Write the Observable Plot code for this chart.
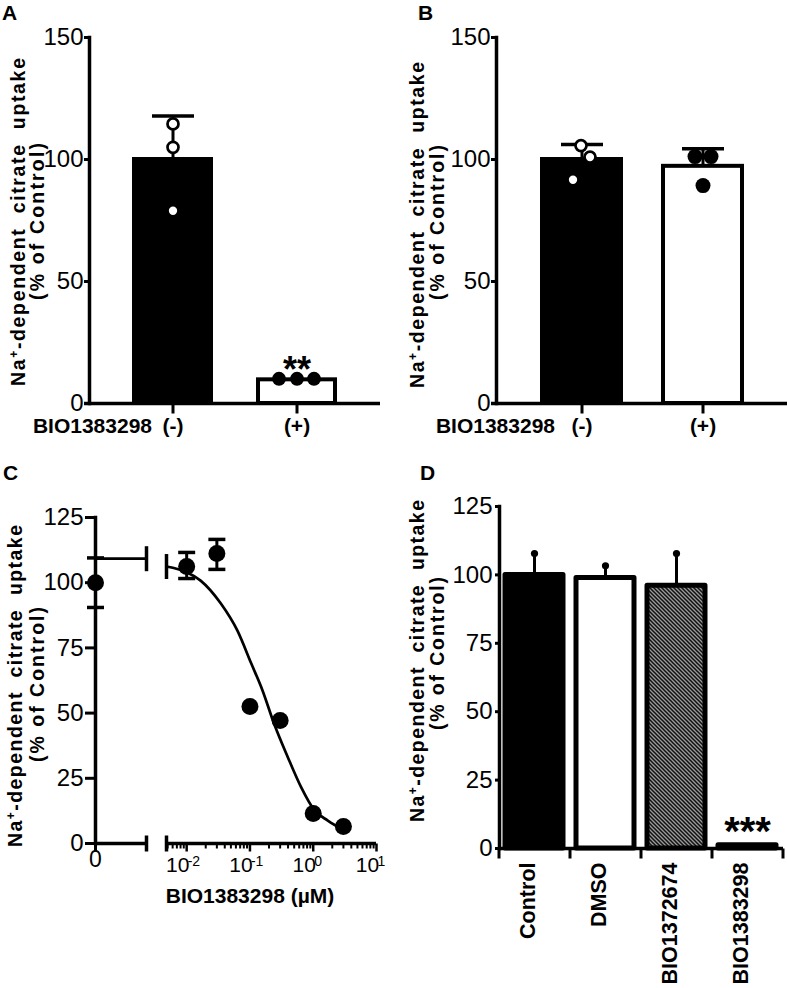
<!DOCTYPE html>
<html><head><meta charset="utf-8">
<script src="https://cdn.jsdelivr.net/npm/d3@7"></script>
<script src="https://cdn.jsdelivr.net/npm/@observablehq/plot@0.6"></script>
<style>
body{margin:0;background:#fff;}
#fig{position:relative;width:787px;height:988px;overflow:hidden;background:#fff;}
#fig svg{position:absolute;}
</style></head><body><div id="fig"></div>
<script>
// ---------- DATA ----------
// Panel A
const A_cats = ["(-)", "(+)"];
const A_means = [100, 9.7];
const A_errTop = [117.8, null];
const A_points = [[114.6, 105, 79], [10.1, 10.1, 10.1]];
const A_yTicks = [0, 50, 100, 150];
const A_star = "**";
const A_starValue = 13.7;
// Panel B
const B_cats = ["(-)", "(+)"];
const B_means = [100, 97.2];
const B_errTop = [106.1, 104.4];
const B_points = [[105.7, 101, 91.7], [101.2, 101.2, 89.3]];
const B_yTicks = [0, 50, 100, 150];
const AB_xName = "BIO1383298";
// Panel C
const C_conc = [0, 0.01, 0.03, 0.1, 0.3, 1, 3];
const C_mean = [100, 106.2, 111.2, 52.5, 47.2, 11.5, 6.5];
const C_lo = [90.5, 101.6, 105.1, null, null, null, null];
const C_hi = [109.5, 111.6, 116.6, null, null, null, null];
const C_fitConc = [0.0048, 0.01, 0.0166, 0.0347, 0.0631, 0.105, 0.158, 0.24, 0.398, 0.646, 1.047, 1.7, 3.0];
const C_fitVal = [106.2, 104, 100.8, 92, 81.7, 69, 58.7, 46, 33, 21.5, 12.7, 8.8, 5.2];
const C_fitTop = 109.2;
const C_yTicks = [0, 25, 50, 75, 100, 125];
const C_majorTicks = [0.01, 0.1, 1, 10];
const C_majorExp = ["-2", "-1", "0", "1"];
const C_xTitle = "BIO1383298 (µM)";
// Panel D
const D_cats = ["Control", "DMSO", "BIO1372674", "BIO1383298"];
const D_means = [100, 98.9, 96, 1.2];
const D_errTop = [107.8, 103.3, 107.8, null];
const D_yTicks = [0, 25, 50, 75, 100, 125];
const D_star = "***";
const D_starValue = 6.1;
// Titles
const Y_PRE = "Na", Y_SUP = "+", Y_MAIN = "-dependent  citrate  uptake", Y_LINE2 = "(% of Control)";

// ---------- STYLE / LAYOUT ----------
const NUM_FONT = '"Liberation Sans",Arial,Helvetica,sans-serif';
const BOLD_FONT = '"Liberation Sans",Arial,Helvetica,sans-serif';
const baseStyle = {fontFamily: NUM_FONT, fontSize: "24px", background: "transparent", overflow: "visible", color: "black"};
const C_breakEnd = 1;        // left (zero) segment: 0 .. breakEnd
const C_logMin = 0.0048;     // right (log) segment start
const C_logMax = 10;

const hCap = w => ({draw(ctx){ctx.moveTo(-w,0); ctx.lineTo(w,0);}});
const vCap = h => ({draw(ctx){ctx.moveTo(0,-h); ctx.lineTo(0,h);}});
const tickDown = h => ({draw(ctx){ctx.moveTo(0,0); ctx.lineTo(0,h);}});
const boldText = {fontWeight: "bold", fontFamily: BOLD_FONT};

const fig = document.getElementById("fig");
function place(svg, left, top){ svg.style.left = left + "px"; svg.style.top = top + "px"; fig.appendChild(svg); return svg; }

function yTitle(svg, x1, cy1, x2, cy2, len1, len2){
  const g = d3.select(svg).append("g").attr("font-family", BOLD_FONT).attr("font-weight", "bold").attr("font-size", 19.5).attr("fill", "black");
  const t1 = g.append("text").attr("transform", `translate(${x1},${cy1}) rotate(-90)`).attr("text-anchor", "middle").attr("dy", "0.35em")
    .attr("textLength", len1).attr("lengthAdjust", "spacing").attr("xml:space", "preserve").style("white-space", "pre");
  t1.append("tspan").text(Y_PRE);
  t1.append("tspan").attr("font-size", 12).attr("baseline-shift", "55%").text(Y_SUP);
  t1.append("tspan").text(Y_MAIN);
  g.append("text").attr("transform", `translate(${x2},${cy2}) rotate(-90)`).attr("text-anchor", "middle").attr("dy", "0.35em")
    .attr("textLength", len2).attr("lengthAdjust", "spacing").text(Y_LINE2);
}
function letter(svg, ch, x, y){
  d3.select(svg).append("text").attr("x", x).attr("y", y).attr("text-anchor", "start").attr("font-family", BOLD_FONT)
    .attr("font-weight", "bold").attr("font-size", 21).attr("fill", "black").text(ch);
}

// ---------- PANELS A & B ----------
function panelAB(o){
  const bars = o.cats.map((c, i) => ({c, v: o.means[i], e: o.errTop[i], f: i === 0 ? "black" : "white"}));
  const errs = bars.filter(d => d.e != null);
  const pointMarks = o.cats.flatMap((c, i) => o.points[i].map((v, j) =>
    Plot.dot([{c, v}], {x: "c", y: "v", dx: o.jitter[i][j],
      r: i === 0 ? 5.5 : o.filledR, fill: i === 0 ? "white" : "black", stroke: "black", strokeWidth: i === 0 ? 2.7 : 0})));
  const marks = [
    Plot.barY(bars, {x: "c", y: "v", fill: "f", stroke: "black", strokeWidth: 4}),
    Plot.ruleX(errs, {x: "c", y1: "v", y2: "e", strokeWidth: 3}),
    Plot.dot(errs, {x: "c", y: "e", symbol: hCap(21), fill: "none", stroke: "black", strokeWidth: 3.5}),
    ...pointMarks,
    Plot.frame({anchor: "left", strokeWidth: 3.5}),
    Plot.ruleY([0], {strokeWidth: 3.5, insetLeft: -5}),
    Plot.axisY({ticks: o.yTicks, tickSize: 5, tickPadding: 1, strokeWidth: 3, label: null}),
    Plot.dot(o.cats, {x: d => d, y: () => 0, symbol: tickDown(10), fill: "none", stroke: "black", strokeWidth: 3}),
    Plot.text(o.cats, {x: d => d, frameAnchor: "bottom", dy: 29, fontSize: 21, ...boldText}),
    Plot.text([AB_xName], {x: () => o.cats[0], frameAnchor: "bottom", dy: 29, dx: o.nameDx, textAnchor: "end", fontSize: 21, ...boldText})
  ];
  if (o.star) marks.push(Plot.text([o.star], {x: () => o.cats[1], y: () => o.starValue, fontSize: 36, ...boldText}));
  return Plot.plot({
    width: o.width, height: 460, marginLeft: o.ml, marginRight: o.mr, marginTop: 37, marginBottom: 57,
    x: {domain: o.cats, paddingInner: o.pi, paddingOuter: o.po, align: 0.5, axis: null},
    y: {domain: [0, 150], axis: null},
    color: {type: "identity"},
    style: baseStyle,
    marks
  });
}

const svgA = place(panelAB({cats: A_cats, means: A_means, errTop: A_errTop, points: A_points, jitter: [[0,0,0],[-18,0,17]],
  filledR: 7, yTicks: A_yTicks, width: 390, ml: 89, mr: 10, pi: 0.38, po: 0.36, nameDx: -21, star: A_star, starValue: A_starValue}), 0, 0);
yTitle(svgA, 18, 222, 37, 221.5, 328, 157);
letter(svgA, "A", 2, 19.5);

const svgB = place(panelAB({cats: B_cats, means: B_means, errTop: B_errTop, points: B_points, jitter: [[-1,8,-9],[-8,8,0]],
  filledR: 7.5, yTicks: B_yTicks, width: 397, ml: 106, mr: 0, pi: 0.35, po: 0.37, nameDx: -27}), 390, 0);
yTitle(svgB, 27, 225, 47, 222.5, 326, 155);
letter(svgB, "B", 28, 19.5);

// ---------- PANEL C ----------
const Cdata = C_conc.map((conc, i) => ({conc, v: C_mean[i], lo: C_lo[i], hi: C_hi[i]}));
const C0 = Cdata.filter(d => d.conc === 0);
const Cpos = Cdata.filter(d => d.conc > 0);
const Cerr = Cpos.filter(d => d.lo != null);
const Cfit = C_fitConc.map((conc, i) => ({conc, v: C_fitVal[i]}));
const minorTicks = [];
for (let e = -3; e <= 0; e++) for (let k = 2; k <= 9; k++) { const t = k * Math.pow(10, e); if (t >= C_logMin && t <= C_logMax) minorTicks.push(t); }
const capStyle = {fill: "none", stroke: "black", strokeWidth: 3.5};

const svgCL = place(Plot.plot({
  width: 160, height: 528, marginLeft: 95, marginRight: 14, marginTop: 57, marginBottom: 145,
  x: {domain: [0, C_breakEnd], axis: null},
  y: {domain: [0, 125], axis: null},
  style: baseStyle,
  marks: [
    Plot.frame({anchor: "left", strokeWidth: 3.5}),
    Plot.axisY({ticks: C_yTicks, tickSize: 10, tickPadding: 2, strokeWidth: 3, label: null}),
    Plot.ruleY([0], {strokeWidth: 3.5}),
    Plot.dot([0], {x: d => d, y: () => 0, symbol: tickDown(8), fill: "none", stroke: "black", strokeWidth: 3}),
    Plot.text([0], {x: d => d, frameAnchor: "bottom", dy: 23, fontSize: 23}),
    Plot.dot([{x: C_breakEnd, y: 0}], {x: "x", y: "y", symbol: vCap(8), ...capStyle}),
    Plot.ruleY([C_fitTop], {strokeWidth: 2.7}),
    Plot.dot([{x: C_breakEnd, y: C_fitTop}], {x: "x", y: "y", symbol: vCap(12.5), ...capStyle}),
    Plot.ruleX(C0, {x: "conc", y1: "lo", y2: "hi", strokeWidth: 3}),
    Plot.dot(C0, {x: "conc", y: "lo", symbol: hCap(8.5), ...capStyle}),
    Plot.dot(C0, {x: "conc", y: "hi", symbol: hCap(8.5), ...capStyle}),
    Plot.dot(C0, {x: "conc", y: "v", r: 8.5, fill: "black"})
  ]
}), 0, 460);
yTitle(svgCL, 15, 226, 37, 224.5, 322, 155);
letter(svgCL, "C", 3, 20);

place(Plot.plot({
  width: 240, height: 528, marginLeft: 16, marginRight: 14, marginTop: 57, marginBottom: 145,
  x: {type: "log", domain: [C_logMin, C_logMax], axis: null},
  y: {domain: [0, 125], axis: null},
  style: baseStyle,
  marks: [
    Plot.ruleY([0], {strokeWidth: 3.5}),
    Plot.dot(minorTicks, {x: d => d, y: () => 0, symbol: tickDown(5), fill: "none", stroke: "black", strokeWidth: 2}),
    Plot.dot(C_majorTicks, {x: d => d, y: () => 0, symbol: tickDown(8), fill: "none", stroke: "black", strokeWidth: 2.5}),
    Plot.text(C_majorTicks, {x: d => d, text: () => "10", frameAnchor: "bottom", dy: 28, dx: -9, fontSize: 21}),
    Plot.text(C_majorTicks, {x: d => d, text: (d, i) => C_majorExp[i], frameAnchor: "bottom", dy: 22, dx: 1, textAnchor: "start", fontSize: 14}),
    Plot.dot([{x: C_logMin, y: 0}], {x: "x", y: "y", symbol: vCap(8), ...capStyle}),
    Plot.line(Cfit, {x: "conc", y: "v", strokeWidth: 2.7, curve: "monotone-x"}),
    Plot.dot([{x: C_logMin, y: C_fitVal[0]}], {x: "x", y: "y", symbol: vCap(12.5), ...capStyle}),
    Plot.ruleX(Cerr, {x: "conc", y1: "lo", y2: "hi", strokeWidth: 3}),
    Plot.dot(Cerr, {x: "conc", y: "lo", symbol: hCap(8.5), ...capStyle}),
    Plot.dot(Cerr, {x: "conc", y: "hi", symbol: hCap(8.5), ...capStyle}),
    Plot.dot(Cpos, {x: "conc", y: "v", r: 8.5, fill: "black"}),
    Plot.text([C_xTitle], {frameAnchor: "bottom", dy: 59, dx: -21.5, fontSize: 21, ...boldText})
  ]
}), 150, 460);

// ---------- PANEL D ----------
const D_ml = 109, D_mr = 4, D_w = 397;
const D_halfStep = (D_w - D_ml - D_mr) / D_cats.length / 2;
const D_fills = ["black", "white", "url(#hatchD)", "black"];
const Dbars = D_cats.map((c, i) => ({c, v: D_means[i], e: D_errTop[i], f: D_fills[i]}));
const Derr = Dbars.filter(d => d.e != null);
const hatchDefs = () => {
  const defs = d3.create("svg:defs");
  const p = defs.append("pattern").attr("id", "hatchD").attr("patternUnits", "userSpaceOnUse").attr("width", 4).attr("height", 4);
  p.append("rect").attr("width", 4).attr("height", 4).attr("fill", "#9a9a9a");
  p.append("path").attr("d", "M-1,-1L5,5M-1,3L1,5M3,-1L5,1").attr("stroke", "#111").attr("stroke-width", 1.5);
  return defs.node();
};
const svgD = place(Plot.plot({
  width: D_w, height: 528, marginLeft: D_ml, marginRight: D_mr, marginTop: 46, marginBottom: 140,
  x: {domain: D_cats, paddingInner: 0.18, paddingOuter: 0.09, align: 0.5, axis: null},
  y: {domain: [0, 125], axis: null},
  color: {type: "identity"},
  style: baseStyle,
  marks: [
    hatchDefs,
    Plot.barY(Dbars, {x: "c", y: "v", fill: "f", stroke: "black", strokeWidth: 5, strokeLinejoin: "round"}),
    Plot.ruleX(Derr, {x: "c", y1: "v", y2: "e", strokeWidth: 3}),
    Plot.dot(Derr, {x: "c", y: "e", r: 3.6, fill: "black"}),
    Plot.frame({anchor: "left", strokeWidth: 3.5}),
    Plot.ruleY([0], {strokeWidth: 3.5}),
    Plot.dot(D_cats, {x: d => d, y: () => 0, dx: -D_halfStep, symbol: tickDown(10), fill: "none", stroke: "black", strokeWidth: 3}),
    Plot.dot([D_cats[D_cats.length - 1]], {x: d => d, y: () => 0, dx: D_halfStep, symbol: tickDown(10), fill: "none", stroke: "black", strokeWidth: 3}),
    Plot.axisY({ticks: D_yTicks, tickSize: 4, tickPadding: 3, strokeWidth: 3, label: null}),
    Plot.text(D_cats, {x: d => d, frameAnchor: "bottom", dy: 14, rotate: -90, textAnchor: "end", fontSize: 21.5, ...boldText}),
    Plot.text([D_star], {x: () => D_cats[3], y: () => D_starValue, fontSize: 40, ...boldText})
  ]
}), 390, 460);
yTitle(svgD, 27, 201, 47, 193.5, 322, 153);
letter(svgD, "D", 30, 20);
</script></body></html>
